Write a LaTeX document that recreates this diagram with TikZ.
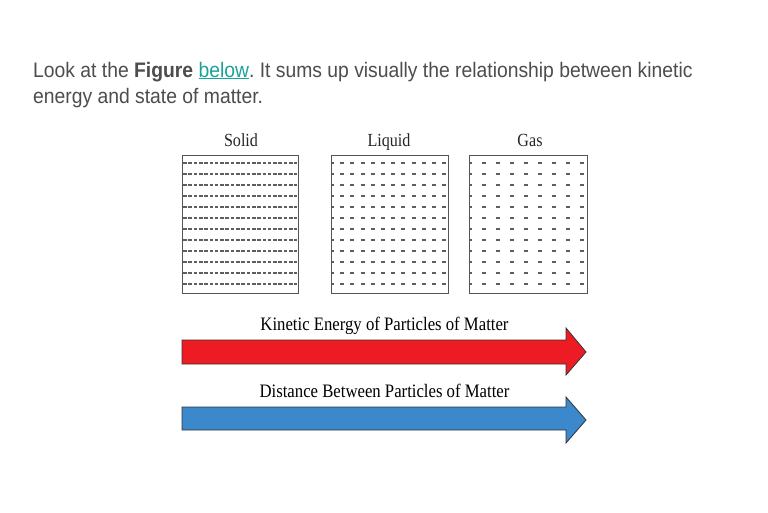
\documentclass[tikz,border=0pt]{standalone}
\usepackage{fontspec}
\setmainfont{Liberation Serif}
\newfontfamily\headfont[FakeStretch=0.92]{Liberation Sans}
\newfontfamily\titlefont[FakeStretch=0.87]{Liberation Serif}
\newfontfamily\labelfont[FakeStretch=0.88]{Liberation Serif}
\definecolor{headgray}{HTML}{4D4D4D}
\definecolor{linkteal}{HTML}{1AA39A}
\definecolor{boxgray}{HTML}{555555}
\definecolor{dashgray}{HTML}{5E5E5E}
\definecolor{arrred}{HTML}{ED1C24}
\definecolor{arrblue}{HTML}{3B88CC}
\begin{document}
\frenchspacing
\begin{tikzpicture}[x=1pt,y=-1pt,
  statebox/.style={draw=boxgray,line width=1.3pt,inner sep=0pt,anchor=north west},
  title/.style={font=\titlefont\fontsize{18.5}{20}\selectfont,anchor=base,text=black!85},
  rowline/.style={draw=dashgray,line width=2pt},
  arrlabel/.style={font=\labelfont\fontsize{19}{21}\selectfont,anchor=base},
  bigarrow/.style={draw=black!80,line width=0.8pt}]
\useasboundingbox (0,0) rectangle (768,512);
\fill[white] (0,0) rectangle (768,512);
% header
\node[anchor=base west,align=left,inner sep=0pt,text=headgray,
  font=\headfont\fontsize{21}{26}\selectfont] (head) at (33,103)
  {Look at the \textbf{Figure} \textcolor{linkteal}{\underline{below}}. It sums up visually the relationship between kinetic\\energy and state of matter.};
% boxes
\node[statebox,minimum width=116pt,minimum height=138pt] (solid) at (182,155) {};
\node[statebox,minimum width=117pt,minimum height=138pt] (liquid) at (331,155) {};
\node[statebox,minimum width=118pt,minimum height=138pt] (gas) at (469,155) {};
% titles
\node[title] (tsolid) at (241,146) {Solid};
\node[title] (tliquid) at (389,146) {Liquid};
\node[title] (tgas) at (530,146) {Gas};
% particle rows
\foreach \i in {0,...,11}{
  \pgfmathsetmacro{\yy}{163+11*\i}
  \draw[rowline,dash pattern=on 3.6pt off 1.7pt] (183,\yy) -- (297,\yy);
  \draw[rowline,dash pattern=on 4pt off 6.2pt,dash phase=2pt] (332,\yy) -- (447,\yy);
  \draw[rowline,dash pattern=on 3.2pt off 10.8pt,dash phase=1.6pt] (470,\yy) -- (586,\yy);
}
% arrows
\node[arrlabel] (lkin) at (384.5,330) {Kinetic Energy of Particles of Matter};
\filldraw[bigarrow,fill=arrred] (182,340) -- (566,340) -- (566,328) -- (586,352)
  -- (566,375) -- (566,364) -- (182,364) -- cycle;
\node[arrlabel] (ldist) at (384.5,397) {Distance Between Particles of Matter};
\filldraw[bigarrow,fill=arrblue] (182,407) -- (566,407) -- (566,397) -- (586,420)
  -- (566,443) -- (566,430) -- (182,430) -- cycle;
\end{tikzpicture}
\end{document}
